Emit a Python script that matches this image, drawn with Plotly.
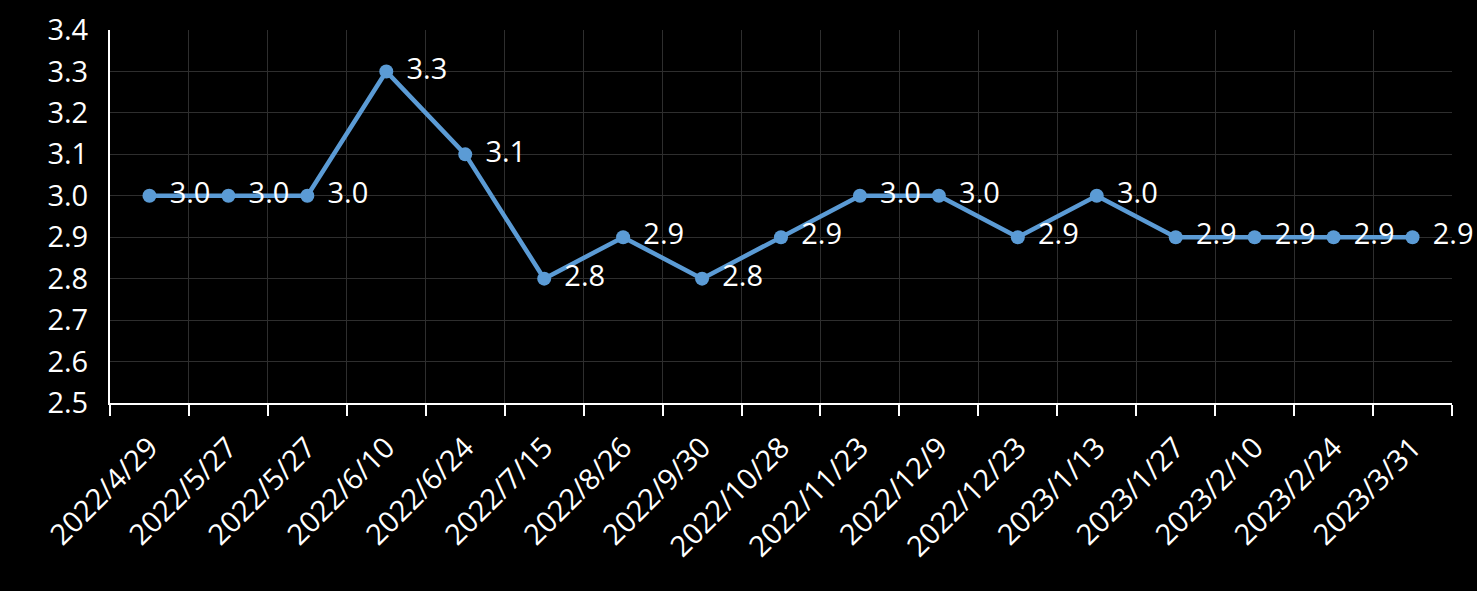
import plotly.graph_objects as go

dates = ["2022/4/29", "2022/5/27", "2022/5/27", "2022/6/10", "2022/6/24", "2022/7/15",
         "2022/8/26", "2022/9/30", "2022/10/28", "2022/11/23", "2022/12/9", "2022/12/23",
         "2023/1/13", "2023/1/27", "2023/2/10", "2023/2/24", "2023/3/31"]
values = [3.0, 3.0, 3.0, 3.3, 3.1, 2.8, 2.9, 2.8, 2.9, 3.0, 3.0, 2.9, 3.0, 2.9, 2.9, 2.9, 2.9]

# make duplicate category labels unique (invisible suffix) so each gets its own slot
cats = []
seen = {}
for d in dates:
    n = seen.get(d, 0)
    cats.append(d + "\u200b" * n)
    seen[d] = n + 1

FONT = "Open Sans"
FS = 29
fig = go.Figure(go.Scatter(
    x=cats, y=values,
    mode="lines+markers+text",
    line=dict(color="#5B9BD5", width=4.5),
    marker=dict(color="#5B9BD5", size=14),
    text=["\u00a0\u200a" + f"{v:.1f}" for v in values],
    textposition="middle right",
    textfont=dict(color="white", size=FS, family=FONT),
    cliponaxis=False,
))

fig.update_layout(
    width=1477, height=591,
    paper_bgcolor="black", plot_bgcolor="black",
    margin=dict(l=110, r=25, t=30, b=188),
    showlegend=False,
    font=dict(family=FONT, color="white", size=FS),
)
fig.update_xaxes(
    type="category", tickson="boundaries", range=[-0.5, len(cats) - 0.5],
    tickangle=-45, ticks="outside", ticklen=11, tickwidth=2, tickcolor="white",
    ticklabelstandoff=14,
    showline=True, linecolor="white", linewidth=2,
    showgrid=True, gridcolor="#2e2e2e", gridwidth=1,
    tickfont=dict(size=FS, color="white", family=FONT),
    automargin=False,
)
fig.update_yaxes(
    range=[2.5, 3.4], dtick=0.1, tickformat=".1f",
    showline=True, linecolor="white", linewidth=2,
    showgrid=True, gridcolor="#2e2e2e", gridwidth=1,
    zeroline=False, ticks="", ticklabelstandoff=14,
    tickfont=dict(size=FS, color="white", family=FONT),
    automargin=False,
)

fig.write_html("out.html")
